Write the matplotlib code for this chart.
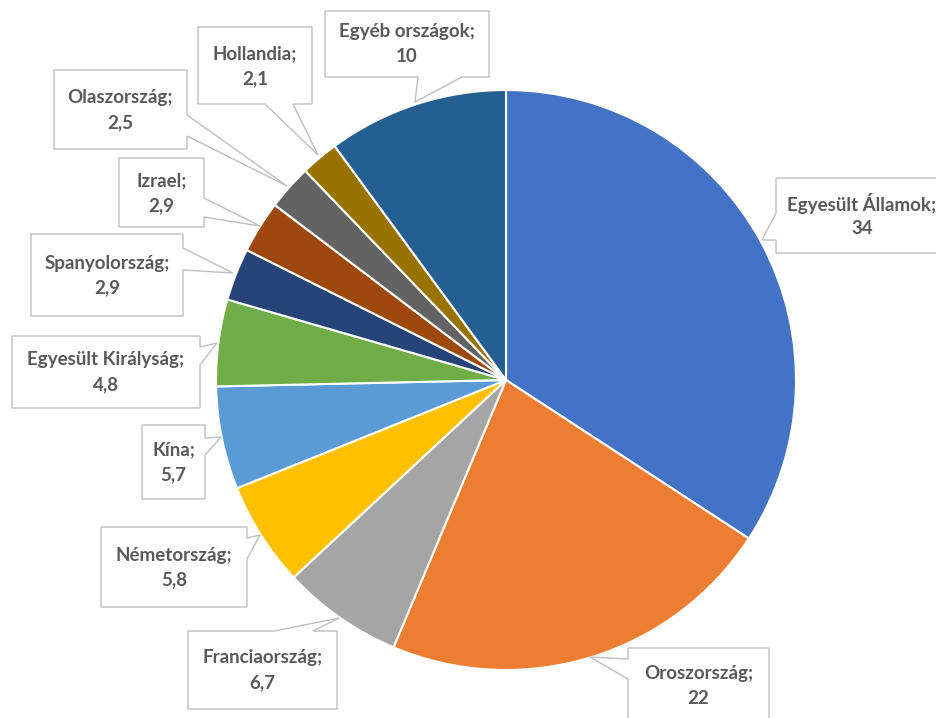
import matplotlib
matplotlib.use('Agg')
import matplotlib.pyplot as plt
from matplotlib.patches import Polygon

W, H = 936, 718

# data
countries = ['Egyesült Államok', 'Oroszország', 'Franciaország', 'Németország', 'Kína',
             'Egyesült Királyság', 'Spanyolország', 'Izrael', 'Olaszország', 'Hollandia',
             'Egyéb országok']
values = [34, 22, 6.7, 5.8, 5.7, 4.8, 2.9, 2.9, 2.5, 2.1, 10]
value_labels = ['34', '22', '6,7', '5,8', '5,7', '4,8', '2,9', '2,9', '2,5', '2,1', '10']
colors = ['#4472C4', '#ED7D31', '#A5A5A5', '#FFC000', '#5B9BD5', '#70AD47',
          '#264478', '#9E480E', '#636363', '#997300', '#255E91']

# callout layout in pixel coords (x0, y0, x1, y1, side, b1, b2, tip)
callouts = [
    (776, 178, 948, 253, 'left', 213, 240, (762, 240)),
    (628, 648, 769, 724, 'left', 659, 679, (590, 657)),
    (188, 631, 337, 709, 'top', 274, 313, (339, 618)),
    (101, 527, 247, 607, 'right', 538, 559, (260, 535)),
    (142, 425, 205, 499, 'right', 438, 455, (221, 437)),
    (12, 336, 200, 408, 'right', 347, 365, (217, 343)),
    (31, 234, 183, 316, 'right', 248, 270, (233, 273)),
    (119, 158, 204, 227, 'right', 198, 217, (260, 226)),
    (54, 70, 187, 149, 'right', 115, 136, (287, 186)),
    (198, 27, 312, 104, 'bottom', 265, 293, (318, 155)),
    (325, 11, 489, 77, 'bottom', 418, 462, (415, 102)),
]


def callout_shape(x0, y0, x1, y1, side, b1, b2, tip):
    if side == 'top':
        pts = [(x0, y0), (b1, y0), tip, (b2, y0), (x1, y0), (x1, y1), (x0, y1)]
    elif side == 'right':
        pts = [(x0, y0), (x1, y0), (x1, b1), tip, (x1, b2), (x1, y1), (x0, y1)]
    elif side == 'bottom':
        pts = [(x0, y0), (x1, y0), (x1, y1), (b2, y1), tip, (b1, y1), (x0, y1)]
    else:
        pts = [(x0, y0), (x1, y0), (x1, y1), (x0, y1), (x0, b2), tip, (x0, b1)]
    return [(x, H - y) for x, y in pts]


fig = plt.figure(figsize=(9.36, 7.18), dpi=100)
ax = fig.add_axes([0, 0, 1, 1])

ax.pie(values, colors=colors, startangle=90, counterclock=False,
       center=(506, H - 380), radius=290,
       wedgeprops=dict(edgecolor='white', linewidth=1.5))

for name, lab, c in zip(countries, value_labels, callouts):
    x0, y0, x1, y1, side, b1, b2, tip = c
    poly = Polygon(callout_shape(*c), closed=True, facecolor='white',
                   edgecolor='#BFBFBF', linewidth=1.0, zorder=5)
    ax.add_patch(poly)
    cx = (x0 + x1) / 2
    cy = (y0 + y1) / 2
    if name == 'Oroszország':
        cy = 686
    ax.text(cx, H - (cy - 12), name + ';', ha='center', va='center',
            fontsize=13.5, fontweight='bold', color='#595959', family='Lato', zorder=6)
    ax.text(cx, H - (cy + 13), lab, ha='center', va='center',
            fontsize=13.5, fontweight='bold', color='#595959', family='Lato', zorder=6)

ax.set_xlim(0, W)
ax.set_ylim(0, H)
ax.set_aspect('equal')
ax.axis('off')

plt.savefig('out.png', dpi=100)
